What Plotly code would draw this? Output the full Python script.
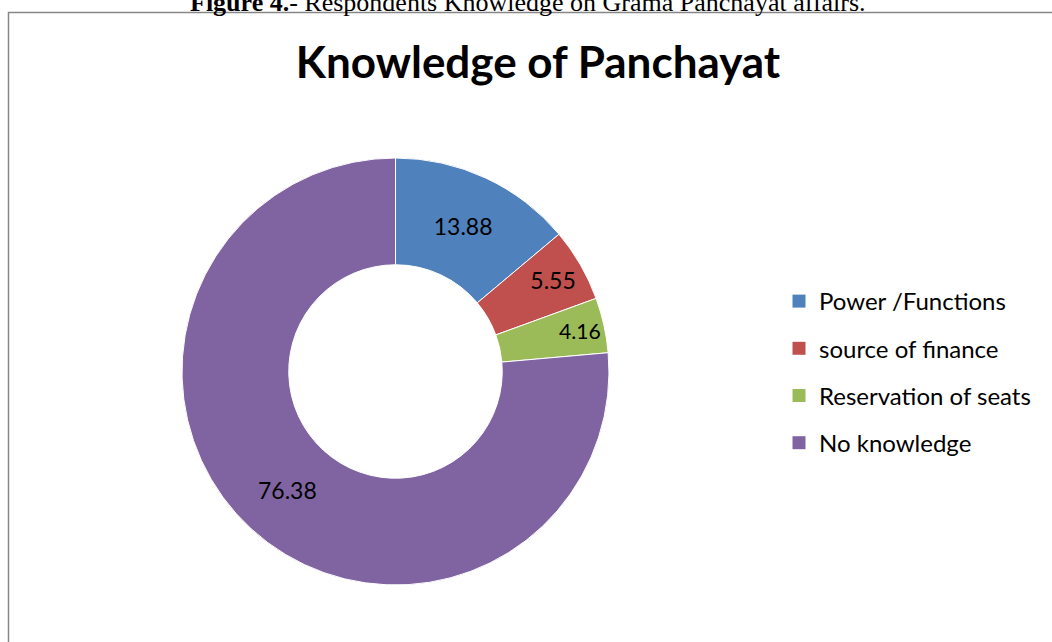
import plotly.graph_objects as go

categories = ["Power /Functions", "source of finance", "Reservation of seats", "No knowledge"]
values = [13.88, 5.55, 4.16, 76.38]
colors = ["#4F81BD", "#C0504D", "#9BBB59", "#8064A2"]

W, H = 1052, 642
FONT = "Lato"

fig = go.Figure()

cx0, cx1 = 182, 609
cy0, cy1 = 158, 585

fig.add_trace(go.Pie(
    labels=categories,
    values=values,
    sort=False,
    direction="clockwise",
    rotation=0,
    hole=0.5,
    marker=dict(colors=colors, line=dict(color="white", width=1)),
    textinfo="value",
    texttemplate="%{value}",
    textposition="inside",
    insidetextorientation="horizontal",
    textfont=dict(family=FONT, size=23, color="black"),
    showlegend=False,
    hoverinfo="label+value",
    domain=dict(x=[cx0 / W, cx1 / W], y=[1 - cy1 / H, 1 - cy0 / H]),
))

# legend entries (one per category) so item spacing can be controlled
for i, (cat, col) in enumerate(zip(categories, colors)):
    fig.add_trace(go.Scatter(
        x=[None], y=[None], mode="markers", name=cat,
        legendgroup=f"g{i}",
        marker=dict(symbol="square", size=13, color=col),
        showlegend=True,
    ))

fig.update_layout(
    width=W, height=H,
    margin=dict(l=0, r=0, t=0, b=0),
    paper_bgcolor="white", plot_bgcolor="white",
    xaxis=dict(visible=False), yaxis=dict(visible=False),
    title=dict(text="<b>Knowledge of Panchayat</b>", x=538 / W, xanchor="center",
               y=1 - 63 / H, yanchor="middle", yref="container",
               font=dict(family=FONT, size=44, color="black")),
    legend=dict(x=779 / W, xanchor="left", y=1 - 372 / H, yanchor="middle",
                font=dict(family=FONT, size=24, color="black"),
                traceorder="grouped", tracegroupgap=13,
                bgcolor="rgba(0,0,0,0)"),
    showlegend=True,
    shapes=[dict(type="rect", xref="paper", yref="paper",
                 x0=8.5 / W, x1=1.05, y0=-0.05, y1=1 - 12.5 / H,
                 line=dict(color="#868686", width=1.5), fillcolor="rgba(0,0,0,0)")],
    annotations=[dict(text="<b>Figure 4.</b>- Respondents Knowledge on Grama Panchayat affairs.",
                      xref="paper", yref="paper", x=528 / W, y=1 - 2.5 / H,
                      xanchor="center", yanchor="middle", showarrow=False,
                      font=dict(family="Liberation Serif", size=26, color="black"))],
)

fig.write_html("out.html", config={"displayModeBar": False},
               post_script="document.body.style.margin='0';")
